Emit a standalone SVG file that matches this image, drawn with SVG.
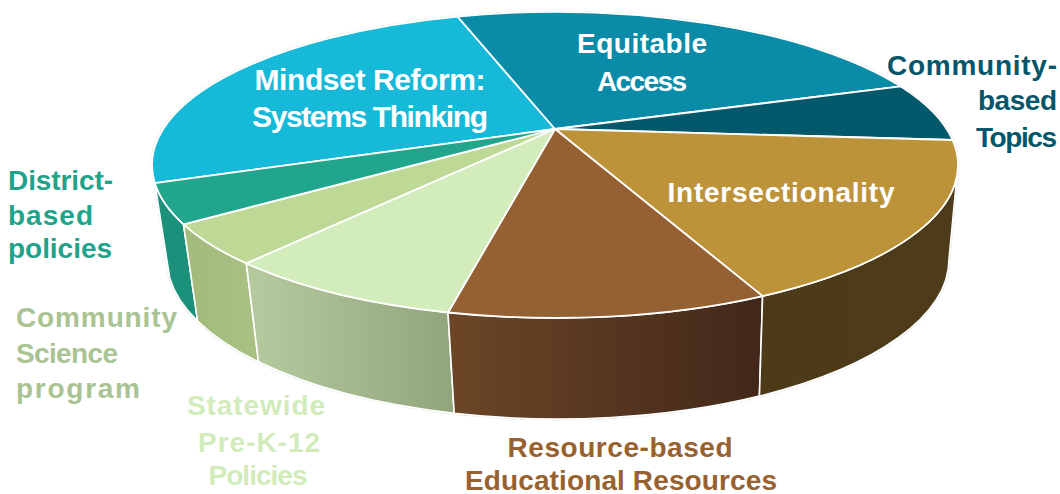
<svg xmlns="http://www.w3.org/2000/svg" width="1060" height="494" viewBox="0 0 1060 494">
<defs>
<style>
.s{stroke:#ffffff;stroke-width:1.6;stroke-linejoin:round}
.t{stroke:#ffffff;stroke-width:1.8;stroke-linejoin:round}
.lbl{font-family:"Liberation Sans",Arial,sans-serif;font-weight:bold;font-size:28px}
.w{fill:#ffffff}
</style>
<linearGradient id="gRes" x1="448" y1="0" x2="764" y2="0" gradientUnits="userSpaceOnUse">
<stop offset="0" stop-color="#6c4626"/><stop offset="1" stop-color="#42271a"/>
</linearGradient>
<linearGradient id="gSta" x1="246" y1="0" x2="450" y2="0" gradientUnits="userSpaceOnUse">
<stop offset="0" stop-color="#b5cb9f"/><stop offset="1" stop-color="#92a67e"/>
</linearGradient>
<linearGradient id="gCom" x1="184" y1="0" x2="258" y2="0" gradientUnits="userSpaceOnUse">
<stop offset="0" stop-color="#a2bb7b"/><stop offset="1" stop-color="#a9c183"/>
</linearGradient>
<linearGradient id="gInt" x1="760" y1="0" x2="958" y2="0" gradientUnits="userSpaceOnUse">
<stop offset="0" stop-color="#4d3a18"/><stop offset="1" stop-color="#4e3b19"/>
</linearGradient>
</defs>

<g id="shadow">
<path d="M152,165 A403,153 0 0 1 958,165 L949,259 A391,160 0 0 1 167,259 Z" fill="none" stroke="#ededed" stroke-width="3"/>
</g>

<g id="sides">
<path id="side-mindset" class="s" fill="#17b1cf" d="M154.8,183.1 A403,153 0 0 1 152,165 L167,259 A391,160 0 0 0 169.7,277.9 Z"/>
<path id="side-district" class="s" fill="#1b917c" d="M183.5,224.3 A403,153 0 0 1 154.8,183.1 L169.7,277.9 A391,160 0 0 0 197.6,321 Z"/>
<path id="side-community" class="s" fill="url(#gCom)" d="M246.3,263.3 A403,153 0 0 1 183.5,224.3 L197.6,321 A391,160 0 0 0 258.5,361.8 Z"/>
<path id="side-statewide" class="s" fill="url(#gSta)" d="M448,312.5 A403,153 0 0 1 246.3,263.3 L258.5,361.8 A391,160 0 0 0 454.2,413.3 Z"/>
<path id="side-resource" class="s" fill="url(#gRes)" d="M762.6,296.1 A403,153 0 0 1 448,312.5 L454.2,413.3 A391,160 0 0 0 759.4,396.1 Z"/>
<path id="side-intersect" class="s" fill="url(#gInt)" d="M958,165 A403,153 0 0 1 762.6,296.1 L759.4,396.1 A391,160 0 0 0 949,259 Z"/>
</g>

<g id="top">
<path id="top-mindset" class="t" fill="#17b9d8" d="M555,129 L154.8,183.1 A403,153 0 0 1 457.5,16.5 Z"/>
<path id="top-equitable" class="t" fill="#0a8ca8" d="M555,129 L457.5,16.5 A403,153 0 0 1 900.8,86.4 Z"/>
<path id="top-commbased" class="t" fill="#03586b" d="M555,129 L900.8,86.4 A403,153 0 0 1 952.6,140 Z"/>
<path id="top-intersect" class="t" fill="#bd933a" d="M555,129 L952.6,140 A403,153 0 0 1 762.6,296.1 Z"/>
<path id="top-resource" class="t" fill="#956133" d="M555,129 L762.6,296.1 A403,153 0 0 1 448,312.5 Z"/>
<path id="top-statewide" class="t" fill="#d3ecbc" d="M555,129 L448,312.5 A403,153 0 0 1 246.3,263.3 Z"/>
<path id="top-community" class="t" fill="#bed895" d="M555,129 L246.3,263.3 A403,153 0 0 1 183.5,224.3 Z"/>
<path id="top-district" class="t" fill="#21a68d" d="M555,129 L183.5,224.3 A403,153 0 0 1 154.8,183.1 Z"/>
</g>

<g id="labels">
<text class="lbl w" style="font-size:30px" x="370" y="90" text-anchor="middle" textLength="231">Mindset Reform:</text>
<text class="lbl w" style="font-size:30px" x="370" y="127" text-anchor="middle" textLength="236">Systems Thinking</text>
<text class="lbl w" x="642" y="53" text-anchor="middle" textLength="130">Equitable</text>
<text class="lbl w" x="642" y="91" text-anchor="middle" textLength="90">Access</text>
<text class="lbl w" x="781" y="202" text-anchor="middle" textLength="227">Intersectionality</text>

<g fill="#04566a">
<text class="lbl" x="1057" y="75" text-anchor="end" textLength="170">Community-</text>
<text class="lbl" x="1057" y="110" text-anchor="end" textLength="79">based</text>
<text class="lbl" x="1057" y="147" text-anchor="end" textLength="81">Topics</text>
</g>
<g fill="#1fa48b">
<text class="lbl" x="8" y="190" textLength="105">District-</text>
<text class="lbl" x="8" y="225" textLength="85">based</text>
<text class="lbl" x="8" y="258" textLength="104">policies</text>
</g>
<g fill="#a9c392">
<text class="lbl" x="16" y="327" textLength="161">Community</text>
<text class="lbl" x="16" y="363" textLength="102">Science</text>
<text class="lbl" x="16" y="398" textLength="124">program</text>
</g>
<g fill="#d2ebbb">
<text class="lbl" x="256" y="415" text-anchor="middle" textLength="138">Statewide</text>
<text class="lbl" x="259" y="452" text-anchor="middle" textLength="122">Pre-K-12</text>
<text class="lbl" x="258" y="485" text-anchor="middle" textLength="99">Policies</text>
</g>
<g fill="#97622f">
<text class="lbl" x="620" y="457" text-anchor="middle" textLength="225">Resource-based</text>
<text class="lbl" x="621" y="490" text-anchor="middle" textLength="312">Educational Resources</text>
</g>
</g>
</svg>
